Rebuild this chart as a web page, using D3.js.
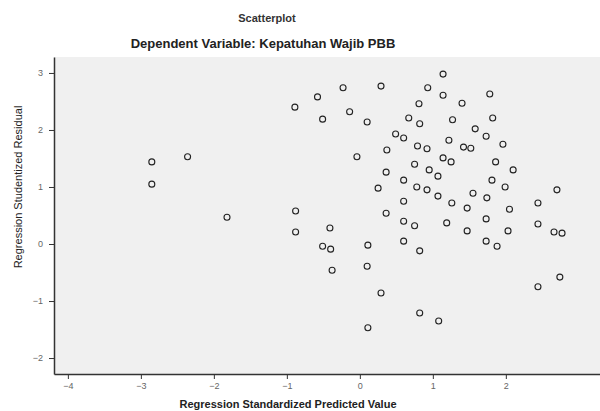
<!DOCTYPE html>
<html>
<head>
<meta charset="utf-8">
<script src="https://cdn.jsdelivr.net/npm/d3@7"></script>
<style>
  body { margin: 0; background: #fff; }
  text { font-family: "Liberation Sans", Arial, sans-serif; }
</style>
</head>
<body>
<script>
// predicted (x) and studentized residual (y)
const predicted = [
  -2.85, -2.85, -2.36, -1.82, -0.89, -0.58, -0.51, -0.23, -0.14, 0.10,
  -0.88, -0.88, -0.41, -0.51, -0.40, -0.38, -0.04, 0.29, 0.93, 1.14,
  1.14, 1.78, 0.81, 1.40, 0.67, 0.82, 1.27, 1.82, 1.58, 0.49,
  0.60, 1.73, 1.96, 0.79, 0.92, 1.22, 1.42, 1.52, 0.37, 1.14,
  1.25, 1.86, 2.10, 0.75, 0.36, 0.95, 1.07, 0.60, 0.78, 0.92,
  0.25, 1.81, 1.99, 2.70, 1.07, 1.26, 1.55, 1.74, 0.60, 1.47,
  2.05, 2.44, 0.36, 0.60, 0.75, 1.19, 1.73, 2.44, 2.66, 2.77,
  1.47, 2.03, 0.60, 0.82, 1.73, 1.88, 0.11, 0.10, 0.29, 0.82,
  1.08, 0.11, 2.44, 2.74
];
const residual = [
  1.44, 1.05, 1.53, 0.47, 2.40, 2.58, 2.19, 2.74, 2.32, 2.14,
  0.58, 0.21, 0.28, -0.04, -0.09, -0.46, 1.53, 2.77, 2.74, 2.98,
  2.61, 2.63, 2.46, 2.47, 2.21, 2.11, 2.18, 2.21, 2.02, 1.93,
  1.86, 1.89, 1.75, 1.72, 1.67, 1.82, 1.70, 1.68, 1.65, 1.51,
  1.44, 1.44, 1.30, 1.40, 1.26, 1.30, 1.19, 1.12, 1.00, 0.95,
  0.98, 1.12, 1.00, 0.95, 0.84, 0.72, 0.89, 0.81, 0.75, 0.63,
  0.61, 0.72, 0.54, 0.40, 0.32, 0.37, 0.44, 0.35, 0.21, 0.19,
  0.23, 0.23, 0.05, -0.12, 0.05, -0.04, -0.02, -0.39, -0.86, -1.21,
  -1.35, -1.47, -0.75, -0.58
];
const xTicks = [-4, -3, -2, -1, 0, 1, 2];
const yTicks = [-2, -1, 0, 1, 2, 3];

const width = 600;
const height = 411;
const plotLeft = 54, plotRight = 600, plotTop = 57, plotBottom = 374;

const svg = d3.select('body').append('svg')
  .attr('width', width)
  .attr('height', height);

svg.append('rect')
  .attr('width', width).attr('height', height)
  .attr('fill', '#fff');

const x = d3.scaleLinear().domain([-4.19, 3.29]).range([plotLeft, plotRight]);
const y = d3.scaleLinear().domain([-2.28, 3.28]).range([plotBottom, plotTop]);

svg.append('rect')
  .attr('x', plotLeft).attr('y', plotTop)
  .attr('width', plotRight - plotLeft).attr('height', plotBottom - plotTop)
  .attr('fill', '#f0f0f0');

const points = predicted.map((p, i) => ({ x: p, y: residual[i] }));

svg.append('g')
  .selectAll('circle')
  .data(points)
  .enter()
  .append('circle')
  .attr('cx', d => x(d.x))
  .attr('cy', d => y(d.y))
  .attr('r', 3)
  .attr('fill', 'none')
  .attr('stroke', '#222')
  .attr('stroke-width', 1.1);

const xAxis = svg.append('g')
  .attr('transform', `translate(0, ${plotBottom})`)
  .call(d3.axisBottom(x).tickValues(xTicks).tickFormat(d3.format('d'))
    .tickSize(5).tickSizeOuter(0));

const yAxis = svg.append('g')
  .attr('transform', `translate(${plotLeft}, 0)`)
  .call(d3.axisLeft(y).tickValues(yTicks).tickFormat(d3.format('d'))
    .tickSize(5).tickSizeOuter(0));

[xAxis, yAxis].forEach(a => {
  a.select('.domain').attr('stroke', '#333').attr('stroke-width', 1.5);
  a.selectAll('.tick line').attr('stroke', '#333');
  a.selectAll('.tick text')
    .attr('fill', '#666')
    .style('font-size', '9px');
});
yAxis.selectAll('.tick text').attr('x', -11);
xAxis.selectAll('.tick text').attr('y', 9);

svg.append('text')
  .attr('x', 267).attr('y', 22)
  .attr('text-anchor', 'middle')
  .style('font-size', '11px').style('font-weight', 'bold')
  .attr('fill', '#333')
  .text('Scatterplot');

svg.append('text')
  .attr('x', 263).attr('y', 48)
  .attr('text-anchor', 'middle')
  .style('font-size', '13px').style('font-weight', 'bold')
  .attr('fill', '#222')
  .text('Dependent Variable: Kepatuhan Wajib PBB');

svg.append('text')
  .attr('x', 288).attr('y', 408)
  .attr('text-anchor', 'middle')
  .style('font-size', '11px').style('font-weight', 'bold')
  .attr('fill', '#222')
  .text('Regression Standardized Predicted Value');

svg.append('text')
  .attr('transform', 'translate(22, 187) rotate(-90)')
  .attr('text-anchor', 'middle')
  .style('font-size', '11px')
  .attr('fill', '#222')
  .text('Regression Studentized Residual');
</script>
</body>
</html>
